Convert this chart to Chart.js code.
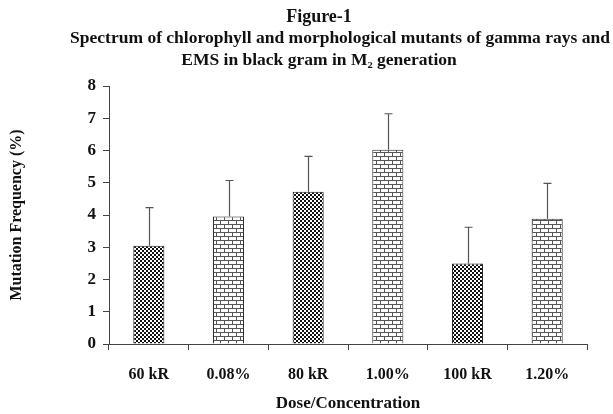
<!DOCTYPE html>
<html>
<head>
<meta charset="utf-8">
<script src="https://cdn.jsdelivr.net/npm/chart.js@4"></script>
<style>
    html, body { margin: 0; padding: 0; background: #fff; }
    #wrap { width: 613px; height: 414px; }
</style>
</head>
<body>
<div id="wrap"><canvas id="mutation-chart" width="613" height="414"></canvas></div>
<script>
const labels = ['60 kR', '0.08%', '80 kR', '1.00%', '100 kR', '1.20%'];
const frequency = [3.05, 3.95, 4.72, 6.02, 2.5, 3.88];
const errors = [1.18, 1.12, 1.1, 1.12, 1.12, 1.1];
const patternKinds = ['checker', 'brick', 'checker', 'brick', 'checker', 'brick'];

const titleFigure = 'Figure-1';
const titleLines = [
    'Spectrum of chlorophyll and morphological mutants of gamma rays and',
    'EMS in black gram in M\u2082 generation'
];

const serif = "'Liberation Serif', 'Times New Roman', serif";

function makePattern(kind) {
    const tile = document.createElement('canvas');
    const ctx = tile.getContext('2d');
    if (kind === 'checker') {
        tile.width = 4;
        tile.height = 4;
        ctx.fillStyle = '#fff';
        ctx.fillRect(0, 0, 4, 4);
        ctx.fillStyle = '#111';
        ctx.fillRect(0, 0, 2, 2);
        ctx.fillRect(2, 2, 2, 2);
    } else {
        tile.width = 8;
        tile.height = 8;
        ctx.fillStyle = '#fff';
        ctx.fillRect(0, 0, 8, 8);
        ctx.fillStyle = '#555';
        ctx.fillRect(0, 0, 8, 1);
        ctx.fillRect(0, 4, 8, 1);
        ctx.fillRect(0, 0, 1, 4);
        ctx.fillRect(4, 4, 1, 4);
    }
    return document.createElement('canvas').getContext('2d').createPattern(tile, 'repeat');
}

// upward error bars with a cap, placed with the chart's own scale
const errorBars = {
    id: 'errorBars',
    afterDatasetsDraw(chart) {
        const ctx = chart.ctx;
        const yScale = chart.scales.y;
        const meta = chart.getDatasetMeta(0);
        ctx.save();
        ctx.strokeStyle = '#555';
        ctx.lineWidth = 1.2;
        meta.data.forEach((bar, i) => {
            const x = Math.round(bar.x) + 0.5;
            const yTop = yScale.getPixelForValue(frequency[i] + errors[i]);
            const yBar = yScale.getPixelForValue(frequency[i]);
            ctx.beginPath();
            ctx.moveTo(x, yBar);
            ctx.lineTo(x, yTop);
            ctx.moveTo(x - 4, yTop);
            ctx.lineTo(x + 4, yTop);
            ctx.stroke();
        });
        ctx.restore();
    }
};

const headerText = {
    id: 'headerText',
    afterDraw(chart) {
        const ctx = chart.ctx;
        ctx.save();
        ctx.fillStyle = '#111';
        ctx.textAlign = 'center';
        ctx.textBaseline = 'middle';
        ctx.font = 'bold 18px ' + serif;
        ctx.fillText(titleFigure, 319, 17);
        ctx.font = 'bold 17.5px ' + serif;
        ctx.fillText(titleLines[0], 340, 38);
        ctx.fillText(titleLines[1], 319, 60);
        ctx.restore();
    }
};

const data = {
    labels: labels,
    datasets: [{
        data: frequency,
        backgroundColor: patternKinds.map(makePattern),
        borderColor: '#222',
        borderWidth: 1,
        barPercentage: 0.39,
        categoryPercentage: 1
    }]
};

const chartConfig = {
    type: 'bar',
    data: data,
    options: {
        responsive: false,
        animation: false,
        layout: {
            padding: { top: 86, right: 26, bottom: 0, left: 0 }
        },
        scales: {
            x: {
                border: { color: '#444', width: 1 },
                grid: { drawOnChartArea: false, drawTicks: true, tickLength: 6, color: '#444', offset: true },
                ticks: { color: '#111', padding: 15, font: { family: serif, size: 16, weight: 'bold' } },
                title: {
                    display: true,
                    text: 'Dose/Concentration',
                    color: '#111',
                    padding: 0,
                    font: { family: serif, size: 17, weight: 'bold' }
                },
                afterFit: function (scale) { scale.height = 70; }
            },
            y: {
                min: 0,
                max: 8,
                border: { color: '#444', width: 1 },
                grid: { drawOnChartArea: false, drawTicks: true, tickLength: 6, color: '#444' },
                ticks: { stepSize: 1, color: '#111', padding: 7, font: { family: serif, size: 17, weight: 'bold' } },
                title: {
                    display: true,
                    text: 'Mutation Frequency (%)',
                    color: '#111',
                    padding: { top: 7, bottom: 0 },
                    font: { family: serif, size: 16, weight: 'bold' }
                },
                afterFit: function (scale) { scale.width = 109; }
            }
        },
        plugins: {
            legend: { display: false },
            tooltip: { enabled: false }
        }
    },
    plugins: [errorBars, headerText]
};

const barChart = document.querySelector('#mutation-chart');
if (barChart) {
    const barChartVar = new Chart(barChart, chartConfig);
}
</script>
</body>
</html>
